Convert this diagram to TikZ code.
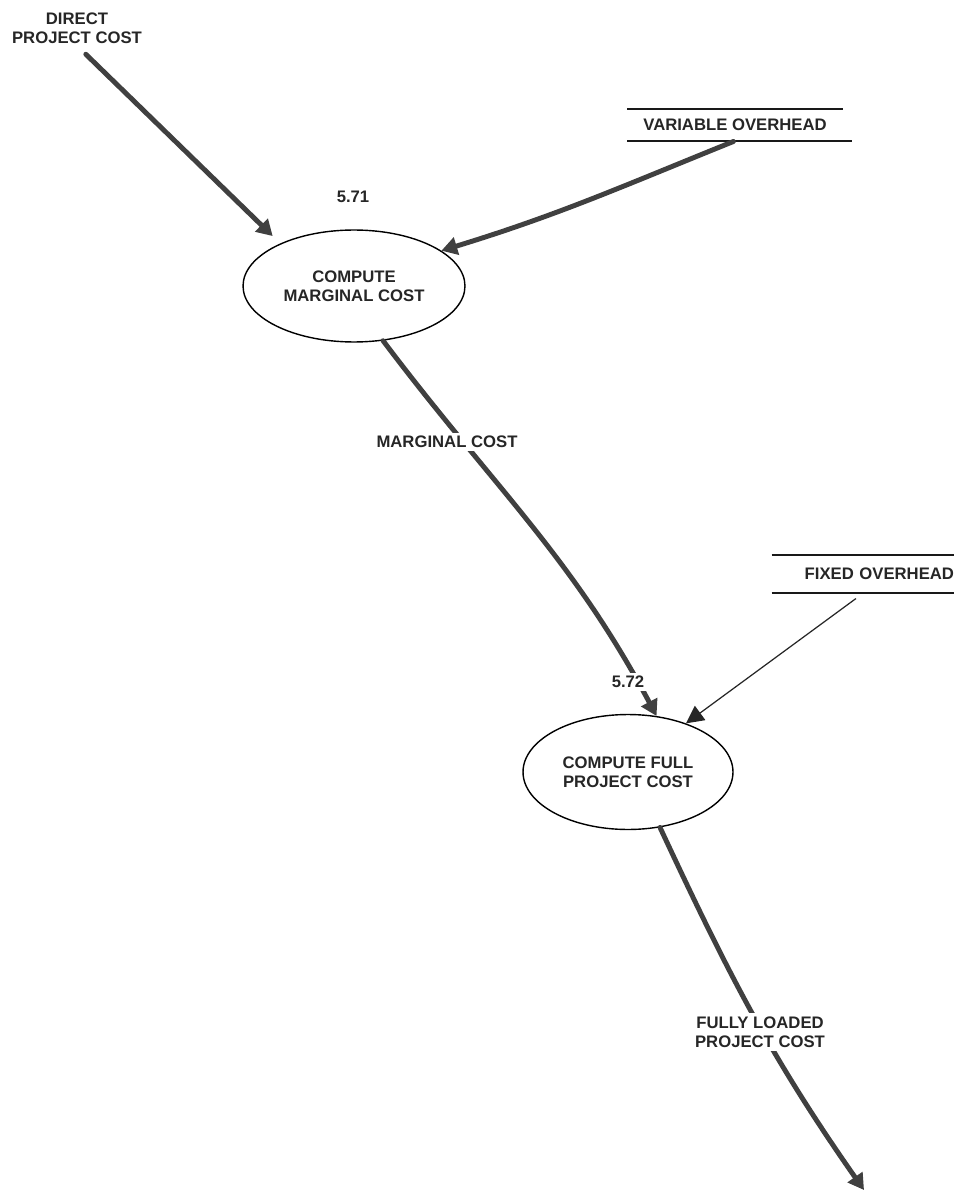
\documentclass[tikz,border=0pt]{standalone}
\usepackage{fontspec}
\setmainfont{Liberation Sans}
\usetikzlibrary{arrows.meta,shapes.geometric}
\begin{document}
\begin{tikzpicture}[x=0.02cm,y=-0.02cm,
  lbl/.style={font=\fontsize{9.5}{11}\selectfont\bfseries, align=center, inner sep=1pt, text=black!85},
  proc/.style={lbl, draw=black, ellipse, line width=0.8pt, minimum width=4.44cm, minimum height=2.24cm, inner sep=0pt},
  flow/.style={draw=black!75, line width=2.8pt, line cap=round, -{Triangle[length=9pt,width=10pt]}},
  thinflow/.style={draw=black!85, line width=0.7pt, -{Triangle[length=10pt,width=10pt]}},
  storeline/.style={draw=black!90, line width=1pt},
  gaplbl/.style={lbl, fill=white, inner sep=2pt}
]
\fill[white] (0,0) rectangle (954,1192);
\useasboundingbox (0,0) rectangle (954,1192);

% external entities / stores
\node[lbl] (dpc) at (77,28) {DIRECT\\PROJECT COST};
\node[lbl, minimum width=4.3cm, minimum height=0.62cm, inner sep=0pt] (vo) at (735,125) {VARIABLE OVERHEAD};
\draw[storeline] (vo.north west) -- (vo.north east);
\draw[storeline] (vo.south west) -- ([xshift=5pt]vo.south east);
\node[lbl, text width=3.64cm, align=right, minimum height=0.76cm, inner sep=0pt] (fo) at (863,574) {FIXED OVERHEAD};
\draw[storeline] (fo.north west) -- (fo.north east);
\draw[storeline] (fo.south west) -- (fo.south east);

% processes
\node[lbl] (n71) at (353,197) {5.71};
\node[proc] (e1) at (354,286) {COMPUTE\\MARGINAL COST};
\node[proc, minimum width=4.2cm, minimum height=2.3cm] (e2) at (628,772) {COMPUTE FULL\\PROJECT COST};

% flows
\draw[flow, shorten <=7pt, shorten >=6pt] (dpc.south) -- (e1.150);
\draw[flow, shorten <=1pt] (vo.south) to[out=202,in=17] (e1.22);
\draw[flow] (e1.-62) to[out=-53,in=118] (e2.63);
\node[gaplbl] (mc) at (447,442) {MARGINAL COST};
\node[gaplbl] (n72) at (628,682) {5.72};
\draw[thinflow, shorten <=5pt] (fo.south) -- (e2.40);
\coordinate (sink) at (864,1190);
\draw[flow] (e2.-60) to[out=-65,in=125] (sink);
\node[gaplbl] (flpc) at (760,1032) {FULLY LOADED\\PROJECT COST};
\end{tikzpicture}
\end{document}
